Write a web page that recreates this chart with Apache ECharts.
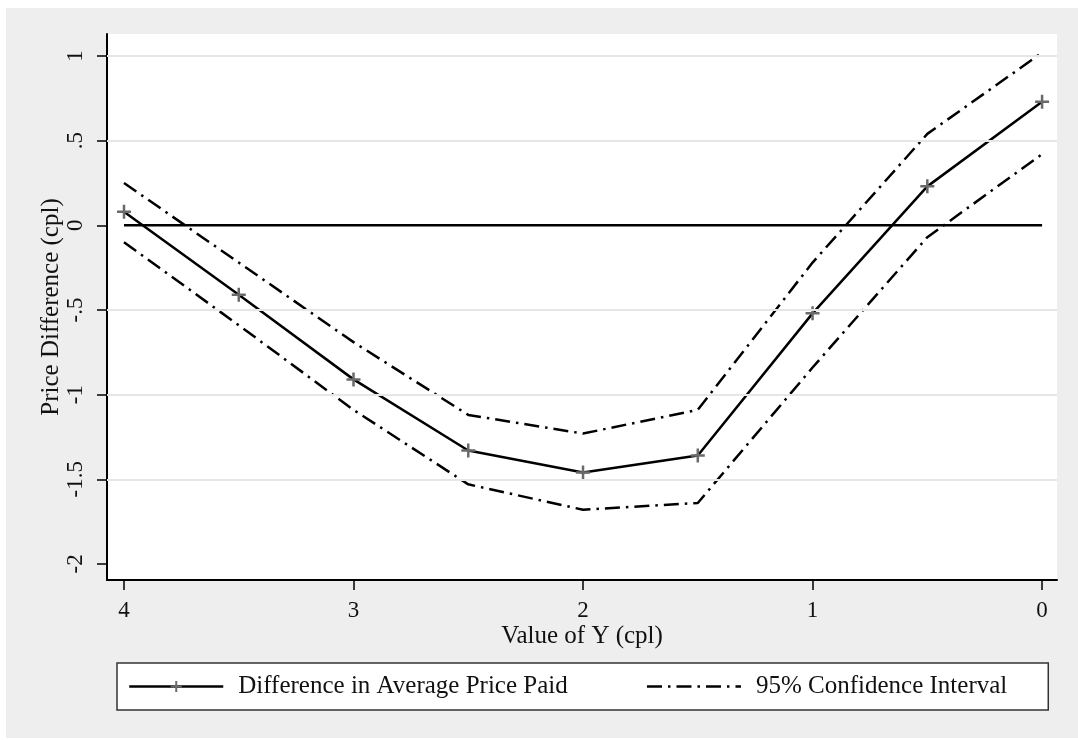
<!DOCTYPE html>
<html>
<head>
<meta charset="utf-8">
<script src="https://cdn.jsdelivr.net/npm/echarts@6/dist/echarts.min.js"></script>
<style>
  html, body { margin: 0; padding: 0; background: #ffffff; }
  #bg { position: absolute; left: 6px; top: 8px; width: 1072px; height: 730px; background: #eeeeee; }
  #chart { position: absolute; left: 0; top: 0; width: 1078px; height: 740px; }
</style>
</head>
<body>
<div id="bg"></div>
<div id="chart"></div>
<script>
// ---- data ----
const xValues = [4, 3.5, 3, 2.5, 2, 1.5, 1, 0.5, 0];
const diffValues = [0.08, -0.41, -0.91, -1.33, -1.46, -1.36, -0.52, 0.23, 0.73];
const upperCI = [0.25, -0.22, -0.69, -1.12, -1.23, -1.09, -0.22, 0.54, 1.02];
const lowerCI = [-0.10, -0.59, -1.09, -1.53, -1.68, -1.64, -0.84, -0.07, 0.42];
const xTicks = [0, 1, 2, 3, 4];
const yTicks = [-2, -1.5, -1, -0.5, 0, 0.5, 1];
const gridValues = [-1.5, -1, -0.5, 0.5, 1];
const seriesNames = ['Difference in Average Price Paid', '95% Confidence Interval'];
const xTitle = 'Value of Y (cpl)';
const yTitle = 'Price Difference (cpl)';

const pairs = arr => xValues.map((x, i) => [x, arr[i]]);
const FONT = "'Liberation Serif', 'Times New Roman', serif";
const plusPath = 'path://M0,5.75L14,5.75L14,8.25L0,8.25Z M5.75,0L8.25,0L8.25,14L5.75,14Z';
const dashDot = [15, 6, 2.5, 6];

const chart = echarts.init(document.getElementById('chart'), null, { renderer: 'canvas' });
chart.setOption({
  backgroundColor: 'transparent',
  animation: false,
  textStyle: { fontFamily: FONT },
  grid: {
    left: 107, right: 21, top: 34, bottom: 160,
    show: true, backgroundColor: '#ffffff', borderWidth: 0
  },
  xAxis: {
    type: 'value',
    inverse: true,
    min: -0.065, max: 4.074,
    name: xTitle,
    nameLocation: 'middle',
    nameMoveOverlap: false,
    nameGap: 44,
    nameTextStyle: { fontFamily: FONT, fontSize: 25, color: '#111' },
    axisLine: { show: true, onZero: false, lineStyle: { color: '#000', width: 2 } },
    axisTick: { show: true, length: 10, lineStyle: { color: '#000', width: 1.5 }, customValues: xTicks },
    axisLabel: { fontFamily: FONT, fontSize: 23, color: '#111', margin: 19, customValues: xTicks },
    splitLine: { show: false }
  },
  yAxis: {
    type: 'value',
    min: -2.095, max: 1.13,
    name: yTitle,
    nameLocation: 'middle',
    nameRotate: 90,
    nameMoveOverlap: false,
    nameGap: 43,
    nameTextStyle: { fontFamily: FONT, fontSize: 25, color: '#111' },
    axisLine: { show: true, onZero: false, lineStyle: { color: '#000', width: 2 } },
    axisTick: { show: true, length: 10, lineStyle: { color: '#000', width: 1.5 }, customValues: yTicks },
    axisLabel: {
      fontFamily: FONT, fontSize: 23, color: '#111', margin: 20, rotate: 90,
      customValues: yTicks,
      formatter: v => String(v).replace('0.', '.')
    },
    splitLine: { show: false }
  },
  legend: {
    data: [
      { name: seriesNames[0] },
      { name: seriesNames[1], itemStyle: { opacity: 0 } }
    ],
    left: 117, top: 663,
    padding: [11, 41, 11, 11],
    itemGap: 78,
    itemWidth: 94, itemHeight: 14,
    backgroundColor: '#ffffff',
    borderColor: '#333333', borderWidth: 1.5,
    borderRadius: 0,
    lineStyle: { width: 2.5 },
    textStyle: { fontFamily: FONT, fontSize: 25, color: '#111', padding: [0, 0, 0, 10] }
  },
  series: [
    {
      name: 'grid', type: 'line', z: 1, silent: true,
      data: [], symbol: 'none',
      markLine: {
        silent: true, symbol: 'none', label: { show: false },
        lineStyle: { color: '#e6e6e6', width: 2, type: 'solid' },
        data: gridValues.map(v => ({ yAxis: v }))
      }
    },
    {
      name: 'zero', type: 'line', z: 2, silent: true,
      data: [[xTicks[xTicks.length - 1], 0], [xTicks[0], 0]],
      symbol: 'none',
      lineStyle: { color: '#000', width: 2.5 }
    },
    {
      name: seriesNames[1], type: 'line', z: 3,
      data: pairs(upperCI), symbol: 'none',
      lineStyle: { color: '#000', width: 2.5, type: dashDot },
      itemStyle: { color: '#000' }
    },
    {
      name: seriesNames[1], type: 'line', z: 3,
      data: pairs(lowerCI), symbol: 'none',
      lineStyle: { color: '#000', width: 2.5, type: dashDot },
      itemStyle: { color: '#000' }
    },
    {
      name: seriesNames[0], type: 'line', z: 4,
      data: pairs(diffValues),
      symbol: plusPath, symbolSize: 14, showSymbol: true,
      lineStyle: { color: '#000', width: 2.5 },
      itemStyle: { color: '#6a6a6a' }
    }
  ]
});
</script>
</body>
</html>
